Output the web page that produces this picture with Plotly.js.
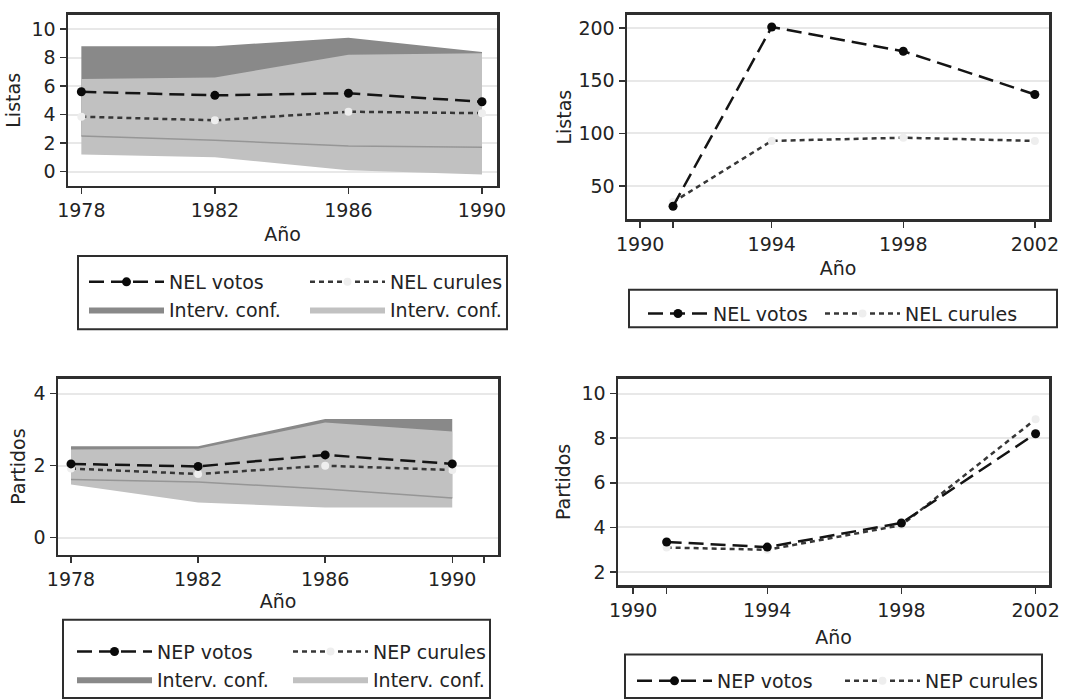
<!DOCTYPE html>
<html>
<head>
<meta charset="utf-8">
<script src="https://cdn.plot.ly/plotly-3.0.1.min.js"></script>
<style>html,body{margin:0;padding:0;background:#fff;}#chart{width:1075px;height:700px;}</style>
</head>
<body>
<div id="chart"></div>
<script>
// ---------- data ----------
const yearsA = [1978, 1982, 1986, 1990];
const yearsB = [1991, 1994, 1998, 2002];

// Panel 1: NEL (listas), 1978-1990
const nelVotosA = [5.6, 5.35, 5.5, 4.9];
const nelCurulesA = [3.85, 3.6, 4.2, 4.1];
const nelVotosCiLoA = [2.5, 2.2, 1.8, 1.7];
const nelVotosCiHiA = [8.8, 8.8, 9.4, 8.4];
const nelCurulesCiLoA = [1.2, 1.0, 0.1, -0.2];
const nelCurulesCiHiA = [6.5, 6.6, 8.2, 8.3];

// Panel 2: NEL (listas), 1991-2002
const nelVotosB = [31, 201, 178, 137];
const nelCurulesB = [35, 93, 96, 93];

// Panel 3: NEP (partidos), 1978-1990
const nepVotosA = [2.05, 1.98, 2.3, 2.05];
const nepCurulesA = [1.92, 1.77, 2.0, 1.88];
const nepVotosCiLoA = [1.62, 1.55, 1.35, 1.1];
const nepVotosCiHiA = [2.54, 2.54, 3.3, 3.3];
const nepCurulesCiLoA = [1.48, 0.98, 0.84, 0.84];
const nepCurulesCiHiA = [2.45, 2.47, 3.2, 2.95];

// Panel 4: NEP (partidos), 1991-2002
const nepVotosB = [3.35, 3.12, 4.2, 8.2];
const nepCurulesB = [3.1, 3.0, 4.1, 8.85];

// tick labels
const ticksXA = [1978, 1982, 1986, 1990];
const ticksXA3 = [1978, 1982, 1986, 1990, 1991];
const ticksXA3Text = ['1978', '1982', '1986', '1990', ''];
const ticksXB = [1990, 1991, 1994, 1998, 2002];
const ticksXBText = ['1990', '', '1994', '1998', '2002'];
const ticksY1 = [0, 2, 4, 6, 8, 10];
const ticksY2 = [50, 100, 150, 200];
const ticksY3 = [0, 2, 4];
const ticksY4 = [2, 4, 6, 8, 10];

const labels = {
  nelVotos: 'NEL votos', nelCurules: 'NEL curules',
  nepVotos: 'NEP votos', nepCurules: 'NEP curules',
  ci: 'Interv. conf.', listas: 'Listas', partidos: 'Partidos', anio: 'Año'
};

// ---------- styles ----------
const FONT = 'DejaVu Sans, Verdana, sans-serif';
const FS = 19;
const TXT = 'rgb(35,35,35)';
const DARK = 'rgb(137,137,137)';
const LIGHT = 'rgb(193,193,193)';
const EDGE = 'rgb(150,150,150)';
const votosLine = {color: 'rgb(20,20,20)', width: 2.5, dash: '15px,7px'};
const curulesLine = {color: 'rgb(55,55,55)', width: 2.5, dash: '5px,4px'};
const votosMarker = {color: 'rgb(10,10,10)', size: 9, symbol: 'circle'};
const curulesMarker = {color: 'rgb(238,238,238)', size: 8, symbol: 'circle'};

let gid = 0;
function band(x, lo, hi, color, xa, ya, name, legend, rank) {
  gid += 1;
  return [
    {x: x, y: lo, xaxis: xa, yaxis: ya, mode: 'lines', line: {width: 0, color: color},
     showlegend: false, hoverinfo: 'skip'},
    {x: x, y: hi, xaxis: xa, yaxis: ya, mode: 'lines', line: {width: 0, color: color},
     fill: 'tonexty', fillcolor: color, name: name, legend: legend, legendrank: rank,
     legendgroup: 'g' + gid, showlegend: true, hoverinfo: 'skip'}
  ];
}
function edge(x, y, xa, ya) {
  return {x: x, y: y, xaxis: xa, yaxis: ya, mode: 'lines', line: {width: 1.5, color: EDGE},
          showlegend: false, hoverinfo: 'skip'};
}
function series(x, y, xa, ya, name, line, marker, legend, rank) {
  gid += 1;
  return {x: x, y: y, xaxis: xa, yaxis: ya, mode: 'lines+markers', line: line, marker: marker,
          name: name, legend: legend, legendrank: rank, legendgroup: 'g' + gid, showlegend: true};
}

const traces = [].concat(
  // panel 1
  band(yearsA, nelVotosCiLoA, nelVotosCiHiA, DARK, 'x', 'y', labels.ci, 'legend', 2),
  band(yearsA, nelCurulesCiLoA, nelCurulesCiHiA, LIGHT, 'x', 'y', labels.ci, 'legend2', 2),
  [edge(yearsA, nelVotosCiLoA, 'x', 'y'),
   series(yearsA, nelCurulesA, 'x', 'y', labels.nelCurules, curulesLine, curulesMarker, 'legend2', 1),
   series(yearsA, nelVotosA, 'x', 'y', labels.nelVotos, votosLine, votosMarker, 'legend', 1)],
  // panel 2
  [series(yearsB, nelCurulesB, 'x2', 'y2', labels.nelCurules, curulesLine, curulesMarker, 'legend4', 1),
   series(yearsB, nelVotosB, 'x2', 'y2', labels.nelVotos, votosLine, votosMarker, 'legend3', 1)],
  // panel 3
  band(yearsA, nepVotosCiLoA, nepVotosCiHiA, DARK, 'x3', 'y3', labels.ci, 'legend5', 2),
  band(yearsA, nepCurulesCiLoA, nepCurulesCiHiA, LIGHT, 'x3', 'y3', labels.ci, 'legend6', 2),
  [edge(yearsA, nepVotosCiLoA, 'x3', 'y3'),
   series(yearsA, nepCurulesA, 'x3', 'y3', labels.nepCurules, curulesLine, curulesMarker, 'legend6', 1),
   series(yearsA, nepVotosA, 'x3', 'y3', labels.nepVotos, votosLine, votosMarker, 'legend5', 1)],
  // panel 4
  [series(yearsB, nepCurulesB, 'x4', 'y4', labels.nepCurules, curulesLine, curulesMarker, 'legend8', 1),
   series(yearsB, nepVotosB, 'x4', 'y4', labels.nepVotos, votosLine, votosMarker, 'legend7', 1)]
);

const W = 1075, H = 700;
const px = v => v / W;
const py = v => 1 - v / H;

function xaxis(domain, range, tickvals, ticktext, anchor, standoff) {
  return {domain: domain, range: range, anchor: anchor, tickmode: 'array', tickvals: tickvals,
          ticktext: ticktext, ticks: 'outside', ticklen: 6, tickwidth: 1.5, tickcolor: '#333',
          showline: true, mirror: true, linewidth: 2.5, linecolor: '#2e2e2e', showgrid: false,
          zeroline: false, tickfont: {family: FONT, size: FS, color: TXT},
          title: {text: labels.anio, font: {family: FONT, size: FS, color: TXT}, standoff: standoff}};
}
function yaxis(domain, range, tickvals, anchor, title, standoff) {
  return {domain: domain, range: range, anchor: anchor, tickmode: 'array', tickvals: tickvals,
          ticks: 'outside', ticklen: 6, tickwidth: 1.5, tickcolor: '#333',
          showline: true, mirror: true, linewidth: 2.5, linecolor: '#2e2e2e',
          showgrid: true, gridcolor: 'rgb(232,232,232)', gridwidth: 2, zeroline: false,
          tickfont: {family: FONT, size: FS, color: TXT},
          title: {text: title, font: {family: FONT, size: FS, color: TXT}, standoff: standoff}};
}
function leg(x, y, iw) {
  return {x: px(x), y: py(y), xanchor: 'left', yanchor: 'top', orientation: 'v',
          traceorder: 'normal', bgcolor: 'rgba(0,0,0,0)', borderwidth: 0, itemwidth: iw,
          font: {family: FONT, size: FS, color: TXT}, tracegroupgap: 7, itemclick: false};
}
function box(x0, y0, x1, y1) {
  return {type: 'rect', xref: 'paper', yref: 'paper', x0: px(x0), x1: px(x1), y0: py(y0), y1: py(y1),
          line: {color: '#2e2e2e', width: 2}, fillcolor: 'rgba(0,0,0,0)', layer: 'above'};
}

const layout = {
  width: W, height: H, margin: {l: 0, r: 0, t: 0, b: 0},
  paper_bgcolor: '#fff', plot_bgcolor: '#fff', showlegend: true,
  font: {family: FONT, size: FS, color: TXT},
  xaxis: xaxis([px(68), px(497)], [1977.6, 1990.45], ticksXA, ticksXA.map(String), 'y', 8),
  yaxis: yaxis([py(188), py(15)], [-1, 11], ticksY1, 'x', labels.listas, 6),
  xaxis2: xaxis([px(627), px(1049)], [1989.6, 2002.43], ticksXB, ticksXBText, 'y2', 8),
  yaxis2: yaxis([py(222), py(15)], [18.5, 212.5], ticksY2, 'x2', labels.listas, 2),
  xaxis3: xaxis([px(58), px(498)], [1977.59, 1991.44], ticksXA3, ticksXA3Text, 'y3', 6),
  yaxis3: yaxis([py(561), py(383)], [-0.47, 4.42], ticksY3, 'x3', labels.partidos, 3),
  xaxis4: xaxis([px(618), px(1049)], [1989.55, 2002.4], ticksXB, ticksXBText, 'y4', 11),
  yaxis4: yaxis([py(592), py(383)], [1.41, 10.67], ticksY4, 'x4', labels.partidos, 6),
  legend: leg(84, 266, 75), legend2: leg(305, 266, 75),
  legend3: leg(643, 298, 60), legend4: leg(820, 298, 75),
  legend5: leg(72, 640, 75), legend6: leg(288, 640, 75),
  legend7: leg(632, 670, 75), legend8: leg(840, 670, 75),
  shapes: [box(78, 259, 507, 333), box(629, 293, 1057, 331), box(63, 627, 490, 706), box(625, 662, 1042, 706)]
};

Plotly.newPlot('chart', traces, layout, {staticPlot: true, displayModeBar: false});
</script>
</body>
</html>
